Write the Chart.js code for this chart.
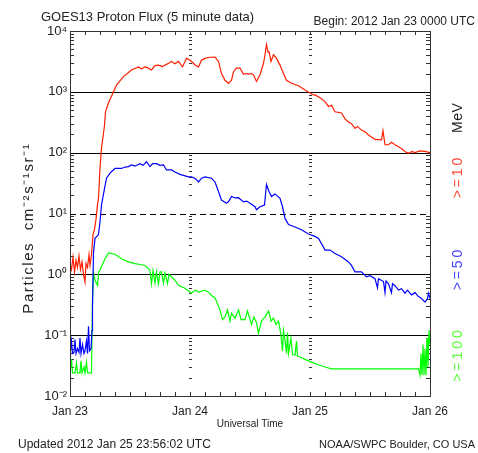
<!DOCTYPE html>
<html>
<head>
<meta charset="utf-8">
<script src="https://cdn.jsdelivr.net/npm/chart.js@4.4.0/dist/chart.umd.min.js"></script>
<style>
  html, body { margin: 0; padding: 0; background: #fff; }
</style>
</head>
<body>
<canvas id="chart" width="478" height="453"></canvas>
<script>
// hours since 2012 Jan 23 0000 UTC
const dayTicks = [0, 24, 48, 72];
const dayLabels = ['Jan 23', 'Jan 24', 'Jan 25', 'Jan 26'];
const decadeTicks = [0.01, 0.1, 1, 10, 100, 1000, 10000];
const decadeLabels = ['10⁻²', '10⁻¹', '10⁰', '10¹', '10²', '10³', '10⁴'];
const energyLabels = ['>=10', '>=50', '>=100'];

// >=10 MeV
const hours10 = [0, 0.3, 0.6, 0.9, 1.2, 1.5, 1.8, 2.1, 2.4, 2.7, 3.0, 3.2, 3.5, 3.8, 4.0, 4.3, 4.6, 4.9, 5.2, 5.5,
  5.7, 6.0, 6.3, 6.9, 7.1, 7.7, 8.7, 9.3, 10.7, 12.3, 13.7, 14.3, 15.0, 15.5, 16.3, 17.0, 17.7, 18.5, 19.0, 19.7,
  20.3, 21.0, 21.7, 22.5, 23.3, 24.0, 24.7, 25.0, 25.7, 26.3, 27.0, 28.0, 29.0, 29.7, 30.3, 31.0, 31.7, 32.3, 32.7, 33.3,
  34.0, 34.7, 35.2, 35.7, 36.3, 36.7, 37.3, 38.0, 38.7, 39.0, 39.3, 39.6, 39.8, 40.2, 40.7, 41.3, 42.0, 42.7, 43.3, 44.3,
  45.7, 47.0, 48.7, 49.0, 50.0, 51.0, 51.7, 52.3, 53.0, 54.3, 55.0, 55.7, 56.3, 57.0, 57.5, 58.3, 59.0, 59.7, 61.0, 62.3,
  62.6, 63.0, 63.7, 64.3, 65.0, 65.7, 66.3, 67.3, 68.0, 68.3, 69.0, 70.0, 71.0, 72.0];
const flux10 = [1.5, 1.2, 1.9, 1.1, 1.7, 1.3, 2.0, 1.2, 1.6, 1.0, 0.75, 1.5, 1.3, 2.1, 1.4, 2.1, 4.5, 5.5, 8, 14,
  18, 56, 120, 280, 470, 660, 1000, 1290, 1780, 2290, 2570, 2400, 2570, 2500, 2290, 2700, 2750, 2600, 2750, 2950,
  3160, 2900, 3160, 2570, 3550, 3300, 2950, 2750, 2570, 3300, 3550, 3700, 3720, 3160, 2000, 1550, 1380, 1550, 2140, 2450,
  2450, 1950, 2000, 1950, 2000, 1900, 1480, 1900, 2950, 4070, 6000, 4500, 4570, 3160, 4070, 3550, 2750, 2000, 1550, 1380,
  1260, 1070, 890, 890, 800, 690, 575, 600, 470, 450, 360, 320, 300, 250, 270, 235, 220, 195, 165, 162,
  230, 135, 135, 148, 135, 125, 117, 100, 98, 105, 100, 107, 105, 100];

// >=50 MeV
const hours50 = [0, 0.3, 0.5, 0.8, 1.0, 1.2, 1.5, 1.8, 2.0, 2.2, 2.5, 2.8, 3.0, 3.3, 3.5, 3.7, 3.9, 4.2, 4.4, 4.5,
  4.7, 5.0, 5.7, 6.0, 6.3, 6.9, 7.3, 8.0, 9.0, 10.3, 11.0, 11.7, 12.3, 13.0, 14.0, 14.6, 15.3, 16.0, 16.5, 17.3,
  18.0, 18.7, 19.3, 20.3, 21.0, 22.0, 23.7, 24.3, 24.9, 25.3, 25.7, 26.3, 27.0, 28.3, 29.0, 29.7, 30.3, 31.3, 31.8, 32.3,
  33.0, 33.7, 34.7, 35.3, 36.0, 37.0, 37.3, 38.0, 38.9, 39.3, 39.8, 40.3, 41.0, 42.0, 42.5, 43.0, 43.7, 45.0, 46.3, 47.7,
  49.0, 49.7, 50.3, 51.0, 52.0, 53.0, 54.3, 55.7, 56.3, 57.0, 58.3, 59.3, 60.0, 61.0, 61.5, 61.7, 62.7, 63.0, 63.2, 63.7,
  64.3, 64.5, 65.0, 65.7, 66.3, 67.0, 67.5, 68.3, 69.0, 69.7, 70.3, 71.0, 71.5, 71.7, 72.0];
const flux50 = [0.05, 0.08, 0.05, 0.052, 0.085, 0.05, 0.06, 0.052, 0.09, 0.05, 0.07, 0.05, 0.055, 0.08, 0.05, 0.14, 0.055, 0.06, 0.12, 0.3,
  2.3, 3.9, 4.5, 7.4, 13.8, 25.7, 38, 46, 55, 55, 58, 59, 63, 60, 66, 62, 71, 59, 66, 66,
  62, 63, 52, 52, 48, 44, 40, 40, 38, 36, 33, 38, 40, 38, 33, 23, 16.6, 14.8, 16, 19,
  18, 18.2, 15.5, 16, 14.8, 12.9, 11.5, 12.9, 13.8, 30, 23, 19, 21, 17.8, 12.9, 8.3, 6.6, 6.0, 5.4, 4.6,
  4.2, 3.9, 3.2, 2.5, 2.5, 2.2, 1.95, 1.6, 1.4, 1.1, 1.1, 0.91, 0.95, 0.85, 0.6, 0.85, 0.76, 0.5, 0.78, 0.7,
  0.5, 0.7, 0.65, 0.55, 0.58, 0.49, 0.55, 0.46, 0.5, 0.43, 0.4, 0.35, 0.4, 0.49, 0.4];

// >=100 MeV
const hours100 = [0, 0.3, 0.5, 1.0, 1.3, 1.5, 2.0, 2.2, 2.4, 2.8, 3.0, 3.3, 3.5, 4.0, 4.3, 4.5, 4.7, 5.0, 5.5, 5.7,
  6.3, 7.0, 7.7, 9.0, 10.3, 11.7, 13.0, 14.0, 15.0, 16.0, 16.3, 16.6, 17.0, 17.3, 17.7, 18.0, 18.3, 18.7, 19.0, 19.5,
  19.8, 20.3, 21.0, 21.7, 23.0, 24.3, 25.0, 25.7, 27.0, 27.7, 28.3, 29.0, 30.0, 30.5, 31.0, 31.5, 32.0, 32.3, 33.0, 33.7,
  34.2, 35.0, 35.5, 36.3, 36.8, 37.3, 37.7, 38.3, 39.0, 39.7, 40.2, 40.7, 41.2, 41.7, 42.2, 42.5, 42.7, 43.0, 43.3, 43.5,
  43.7, 44.2, 44.5, 45.0, 45.3, 45.5, 45.7, 47.0, 48.3, 50.0, 51.0, 52.3, 55.0, 60.0, 65.0, 69.7, 70.0, 70.2, 70.4, 70.6,
  70.8, 71.0, 71.2, 71.4, 71.6, 71.8, 72.0];
const flux100 = [0.024, 0.04, 0.024, 0.024, 0.035, 0.024, 0.024, 0.038, 0.024, 0.03, 0.024, 0.036, 0.024, 0.024, 0.024, 0.38, 1.05, 0.8, 0.66, 1.05,
  1.35, 1.8, 2.24, 2.14, 1.8, 1.6, 1.5, 1.45, 1.4, 1.17, 0.7, 1.15, 0.72, 1.1, 0.7, 1.1, 1.1, 0.72, 1.05, 0.7,
  1.0, 0.91, 0.8, 0.66, 0.59, 0.49, 0.55, 0.51, 0.55, 0.51, 0.45, 0.41, 0.26, 0.18, 0.2, 0.26, 0.17, 0.23, 0.19, 0.26,
  0.18, 0.18, 0.25, 0.15, 0.2, 0.16, 0.107, 0.17, 0.2, 0.25, 0.17, 0.19, 0.15, 0.17, 0.1, 0.055, 0.12, 0.083, 0.05, 0.11,
  0.05, 0.09, 0.048, 0.047, 0.08, 0.045, 0.045, 0.04, 0.036, 0.032, 0.030, 0.028, 0.028, 0.028, 0.028, 0.028, 0.022, 0.05, 0.022, 0.07,
  0.022, 0.06, 0.022, 0.09, 0.03, 0.12, 0.07];

const toPoints = (hours, flux) => hours.map((h, i) => ({ x: h, y: flux[i] }));
const FONT = '"Liberation Sans", Arial, sans-serif';

// frame, decade lines, minor ticks and the text around the plot
const goesDecor = {
  id: 'goesDecor',
  beforeDatasetsDraw(chart) {
    const { ctx, chartArea: a, scales: { x, y } } = chart;
    ctx.save();
    ctx.strokeStyle = '#000';
    ctx.lineWidth = 1;
    [1000, 100, 10, 1, 0.1].forEach(v => {
      const py = Math.round(y.getPixelForValue(v)) + 0.5;
      ctx.setLineDash(v === 10 ? [6, 4] : []);
      ctx.beginPath(); ctx.moveTo(a.left, py); ctx.lineTo(a.right, py); ctx.stroke();
    });
    ctx.setLineDash([]);
    ctx.strokeStyle = '#333';
    const dayX = [24, 48].map(h => Math.round(x.getPixelForValue(h)));
    for (let d = -2; d < 4; d++) {
      for (let m = 2; m <= 9; m++) {
        const py = Math.round(y.getPixelForValue(m * Math.pow(10, d))) + 0.5;
        ctx.beginPath();
        ctx.moveTo(a.left, py); ctx.lineTo(a.left + 4, py);
        ctx.moveTo(a.right, py); ctx.lineTo(a.right - 4, py);
        dayX.forEach(px => { ctx.moveTo(px - 1, py); ctx.lineTo(px + 2, py); });
        ctx.stroke();
      }
    }
    for (let h = 3; h < 72; h += 3) {
      const px = Math.round(x.getPixelForValue(h)) + 0.5;
      ctx.beginPath();
      ctx.moveTo(px, a.top); ctx.lineTo(px, a.top + 4);
      ctx.moveTo(px, a.bottom); ctx.lineTo(px, a.bottom - 4);
      ctx.stroke();
    }
    ctx.restore();
  },
  afterDatasetsDraw(chart) {
    const { ctx, chartArea: a } = chart;
    ctx.save();
    ctx.strokeStyle = '#333';
    ctx.lineWidth = 1;
    ctx.strokeRect(Math.round(a.left) + 0.5, Math.round(a.top) + 0.5,
      Math.round(a.right - a.left), Math.round(a.bottom - a.top));
    ctx.restore();
  },
  afterDraw(chart) {
    const { ctx, chartArea: a } = chart;
    ctx.save();
    ctx.fillStyle = '#222';
    ctx.textBaseline = 'alphabetic';
    ctx.font = '13px ' + FONT;
    ctx.textAlign = 'left';
    ctx.fillText('GOES13 Proton Flux (5 minute data)', 41, 21);
    ctx.font = '12px ' + FONT;
    ctx.textAlign = 'right';
    ctx.fillText('Begin: 2012 Jan 23 0000 UTC', 475, 25);
    ctx.textAlign = 'left';
    ctx.fillText('Updated 2012 Jan 25 23:56:02 UTC', 18, 448);
    ctx.font = '11px ' + FONT;
    ctx.textAlign = 'right';
    ctx.fillText('NOAA/SWPC Boulder, CO USA', 475, 448);
    ctx.font = '10px ' + FONT;
    ctx.textAlign = 'center';
    ctx.textBaseline = 'middle';
    ctx.fillText('Universal Time', (a.left + a.right) / 2, 424);

    const rot = (text, cx, cy, color, size, spacing) => {
      ctx.save();
      ctx.translate(cx, cy);
      ctx.rotate(-Math.PI / 2);
      ctx.fillStyle = color;
      ctx.font = size + 'px ' + FONT;
      ctx.letterSpacing = spacing + 'px';
      ctx.textAlign = 'center';
      ctx.textBaseline = 'middle';
      ctx.fillText(text, spacing / 2, 0);
      ctx.restore();
    };
    rot('Particles  cm⁻²s⁻¹sr⁻¹', 29, 229, '#222', 15, 1.6);
    rot('MeV', 458, 118, '#222', 14, 0.5);
    rot(energyLabels[0], 458, 178, 'rgb(255,70,50)', 14, 2.8);
    rot(energyLabels[1], 458, 270, 'rgb(70,70,255)', 14, 2.8);
    rot(energyLabels[2], 458, 356, 'rgb(90,255,60)', 14, 3);
    ctx.restore();
  }
};

const ctx = document.getElementById('chart').getContext('2d');
const myChart = new Chart(ctx, {
  type: 'line',
  data: {
    datasets: [
      { label: '>=50 MeV', data: toPoints(hours50, flux50), borderColor: 'rgb(0,0,255)', order: 0 },
      { label: '>=100 MeV', data: toPoints(hours100, flux100), borderColor: 'rgb(0,255,0)', order: 1 },
      { label: '>=10 MeV', data: toPoints(hours10, flux10), borderColor: 'rgb(255,30,0)', order: 2 }
    ]
  },
  options: {
    responsive: false,
    animation: false,
    datasets: { line: { borderWidth: 1.2, pointRadius: 0, tension: 0, fill: false } },
    layout: { padding: { top: 31, right: 48, left: 0, bottom: 0 } },
    plugins: { legend: { display: false }, tooltip: { enabled: false } },
    scales: {
      x: {
        type: 'linear', min: 0, max: 72,
        afterBuildTicks: s => { s.ticks = dayTicks.map(v => ({ value: v })); },
        afterFit: s => { s.height = 57; },
        grid: { display: false, drawTicks: false },
        border: { display: false },
        ticks: {
          callback: v => dayLabels[dayTicks.indexOf(v)],
          maxRotation: 0, autoSkip: false, padding: 8, color: '#222',
          font: { family: FONT, size: 12 }
        }
      },
      y: {
        type: 'logarithmic', min: 0.01, max: 10000,
        afterBuildTicks: s => { s.ticks = decadeTicks.map(v => ({ value: v })); },
        afterFit: s => { s.width = 70; },
        grid: { display: false, drawTicks: false },
        border: { display: false },
        ticks: {
          callback: v => decadeLabels[decadeTicks.indexOf(v)],
          autoSkip: false, padding: 3, color: '#222',
          font: { family: FONT, size: 13 }
        }
      }
    }
  },
  plugins: [goesDecor]
});
</script>
</body>
</html>
